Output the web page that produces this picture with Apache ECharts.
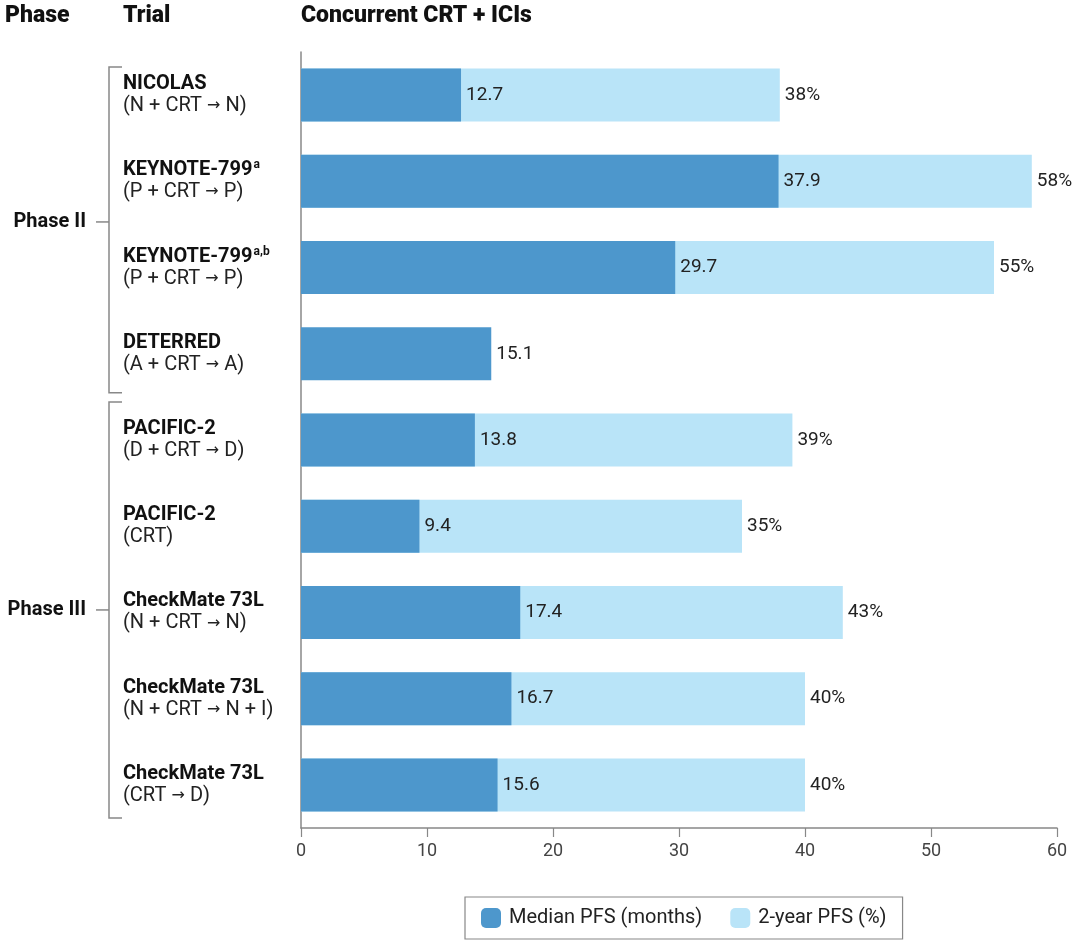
<!DOCTYPE html>
<html>
<head>
<meta charset="utf-8">
<title>Concurrent CRT + ICIs</title>
<script src="https://cdn.jsdelivr.net/npm/echarts@6/dist/echarts.min.js"></script>
<style>
  html, body { margin: 0; padding: 0; background: #fff; }
  #main { width: 1080px; height: 941px; }
</style>
</head>
<body>
<div id="main"></div>
<script>
// trial rows, top to bottom
var trials = ['NICOLAS', 'KEYNOTE-799', 'KEYNOTE-799', 'DETERRED', 'PACIFIC-2', 'PACIFIC-2',
              'CheckMate 73L', 'CheckMate 73L', 'CheckMate 73L'];
var notes = ['', 'a', 'a,b', '', '', '', '', '', ''];
var regimens = ['(N + CRT > N)', '(P + CRT > P)', '(P + CRT > P)', '(A + CRT > A)',
                '(D + CRT > D)', '(CRT)', '(N + CRT > N)', '(N + CRT > N + I)', '(CRT > D)'];
var medianPFS = [12.7, 37.9, 29.7, 15.1, 13.8, 9.4, 17.4, 16.7, 15.6];
var pfs2y = [38, 58, 55, null, 39, 35, 43, 40, 40];
var xTicks = [0, 10, 20, 30, 40, 50, 60];
// phase groups (first row, last row)
var phaseNames = ['Phase II', 'Phase III'];
var phaseFrom = [0, 4];
var phaseTo = [3, 8];

var FONT = 'Roboto, "Liberation Sans", sans-serif';
var DARK = '#4d97cc';
var LIGHT = '#b9e4f8';

var cats = trials.map(function (t, i) { return String(i); });

// regimen text with the arrow drawn in its own token so it keeps a full-size glyph
function regimenRich(s) {
    return s.split(' > ').map(function (part) { return '{r|' + part + '}'; }).join('{arr| \u2192 }');
}

var chart = echarts.init(document.getElementById('main'));

var option = {
    backgroundColor: '#fff',
    animation: false,
    textStyle: { fontFamily: FONT },
    grid: { left: 301, right: 23, top: 52, bottom: 113, containLabel: false },
    legend: {
        bottom: 2,
        left: 465,
        itemWidth: 20,
        itemHeight: 20,
        itemGap: 28,
        padding: [11, 16, 11, 16],
        borderColor: '#888',
        borderWidth: 1.2,
        textStyle: { fontSize: 20, color: '#222', fontFamily: FONT, padding: [0, 0, 0, 3] },
        data: ['Median PFS (months)', '2-year PFS (%)']
    },
    xAxis: {
        type: 'value',
        min: xTicks[0],
        max: xTicks[xTicks.length - 1],
        interval: xTicks[1] - xTicks[0],
        axisLine: { show: true, lineStyle: { color: '#888', width: 1.5 } },
        axisTick: { show: true, length: 9, lineStyle: { color: '#888', width: 1.2 } },
        splitLine: { show: false },
        axisLabel: { margin: 14, fontSize: 18, color: '#444', fontFamily: FONT }
    },
    yAxis: {
        type: 'category',
        inverse: true,
        data: cats,
        axisLine: { show: true, lineStyle: { color: '#888', width: 1.5 } },
        axisTick: { show: false },
        axisLabel: {
            align: 'left',
            margin: 178,
            formatter: function (v) {
                var i = +v;
                var top = '{b|' + trials[i] + '}' + (notes[i] ? '{sup|' + notes[i] + '}' : '');
                return top + '\n' + regimenRich(regimens[i]);
            },
            rich: {
                b: { fontSize: 20, fontWeight: 'bold', color: '#111', lineHeight: 22, fontFamily: FONT },
                sup: { fontSize: 12, fontWeight: 'bold', color: '#111', padding: [0, 0, 10, 1], fontFamily: FONT },
                r: { fontSize: 20, color: '#222', lineHeight: 22, fontFamily: FONT },
                arr: { fontSize: 16, color: '#222', lineHeight: 22, fontFamily: '"DejaVu Sans", sans-serif' }
            }
        }
    },
    series: [
        {
            name: '2-year PFS (%)',
            type: 'bar',
            barWidth: 53,
            itemStyle: { color: LIGHT },
            label: {
                show: true, position: 'right', distance: 5,
                formatter: '{c}%', fontSize: 19, color: '#222', fontFamily: FONT
            },
            data: pfs2y
        },
        {
            name: 'Median PFS (months)',
            type: 'bar',
            barWidth: 53,
            barGap: '-100%',
            itemStyle: { color: DARK },
            label: {
                show: true, position: 'right', distance: 5,
                fontSize: 19, color: '#222', fontFamily: FONT
            },
            data: medianPFS
        }
    ]
};
chart.setOption(option);

// header titles, phase labels and brackets placed from the axis positions
var graphics = [];
var hdr = { fontSize: 23, fontWeight: 900, fill: '#111', fontFamily: FONT, textVerticalAlign: 'middle' };
graphics.push({ type: 'text', x: 5, y: 16, style: Object.assign({ text: 'Phase' }, hdr) });
graphics.push({ type: 'text', x: 123, y: 16, style: Object.assign({ text: 'Trial' }, hdr) });
graphics.push({ type: 'text', x: 301, y: 16, style: Object.assign({ text: 'Concurrent CRT + ICIs' }, hdr) });

var bx = 109, tickEnd = 122;
var padTop = [28, 38], padBot = [39, 33];
for (var p = 0; p < phaseNames.length; p++) {
    var y0 = chart.convertToPixel({ yAxisIndex: 0 }, cats[phaseFrom[p]]) - padTop[p];
    var y1 = chart.convertToPixel({ yAxisIndex: 0 }, cats[phaseTo[p]]) + padBot[p];
    var ym = (y0 + y1) / 2 - (p === 0 ? 8 : 0);
    graphics.push({
        type: 'polyline',
        shape: { points: [[tickEnd, y0], [bx, y0], [bx, y1], [tickEnd, y1]] },
        style: { stroke: '#888', lineWidth: 1.5, fill: null }
    });
    graphics.push({
        type: 'line',
        shape: { x1: 96, y1: ym, x2: bx, y2: ym },
        style: { stroke: '#888', lineWidth: 1.5 }
    });
    graphics.push({
        type: 'text',
        x: 86, y: ym,
        style: {
            text: phaseNames[p], fontSize: 20, fontWeight: 'bold', fill: '#111', fontFamily: FONT,
            textAlign: 'right', textVerticalAlign: 'middle'
        }
    });
}
chart.setOption({ graphic: graphics });
</script>
</body>
</html>
